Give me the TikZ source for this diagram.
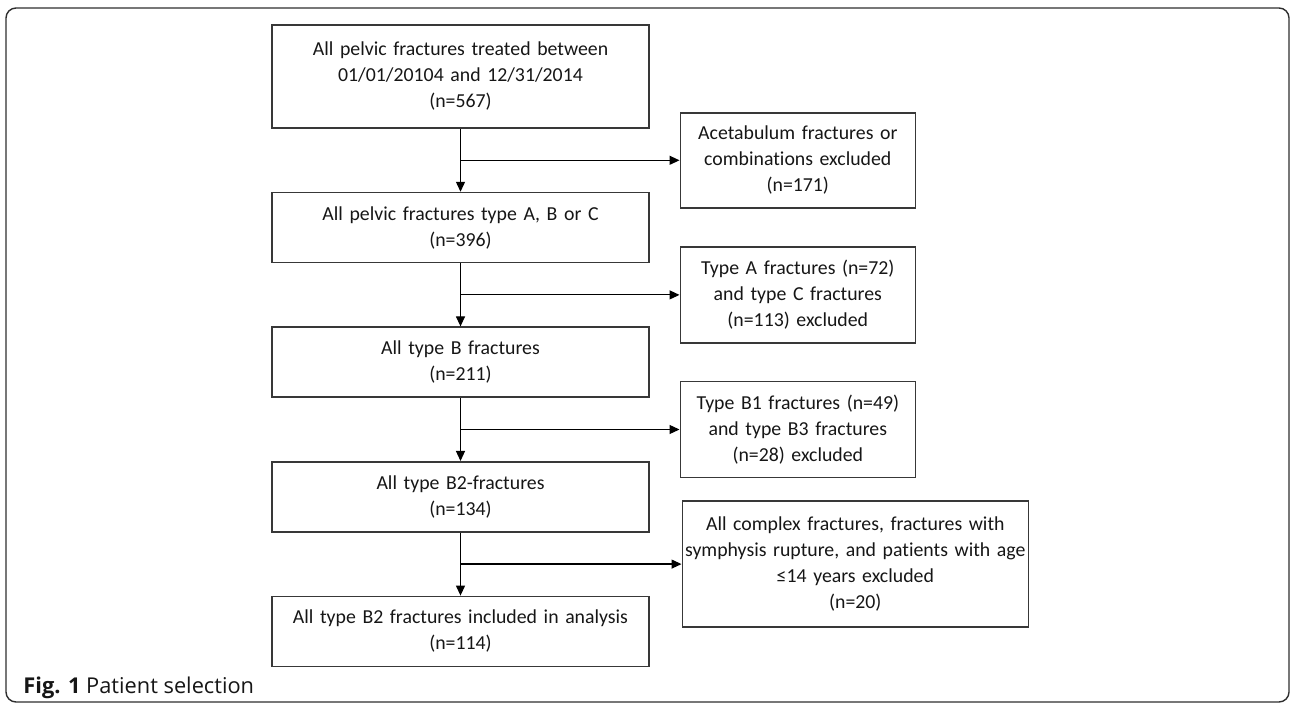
\documentclass[tikz,border=0pt]{standalone}
\usepackage{fontspec}
\usepackage{xcolor}
\usepackage{tikz}
\usetikzlibrary{positioning,arrows.meta}
\setmainfont{Carlito}[Ligatures=NoCommon,WordSpace=0.8]
\newfontfamily\capfont{Open Sans}
\definecolor{selGray}{HTML}{383838}
\definecolor{selText}{HTML}{161616}
\definecolor{selFrame}{HTML}{2E2E2E}
\newcommand{\nval}[1]{(n=#1)}

\begin{document}
\begin{tikzpicture}[x=0.5pt,y=-0.5pt,node distance=31.5pt,
    font=\fontsize{9.9pt}{13pt}\selectfont,
    flowbox/.style={draw=selGray,line width=0.8pt,text=selText,align=center,inner sep=0pt},
    mainbox/.style={flowbox,text width=188.5pt,minimum height=35pt},
    exclbox/.style={flowbox,text width=117.5pt,minimum height=48pt},
    flowarrow/.style={line width=0.6pt,-{Triangle[length=5pt,width=4.5pt]}}]
      \useasboundingbox (0,0) rectangle (1290,704);
      \draw[selFrame,line width=0.7pt,rounded corners=5pt] (6,8) rectangle (1289,702);
      % main column
      \node[mainbox,minimum height=51.5pt] (allpelvic) at (460.5,76.5)
        {All pelvic fractures treated between\\01/01/20104 and 12/31/2014\\\nval{567}};
      \node[mainbox,below=of allpelvic] (typeabc)
        {All pelvic fractures type A, B or C\\\nval{396}};
      \node[mainbox,below=of typeabc] (typeb)
        {All type B fractures\\\nval{211}};
      \node[mainbox,below=of typeb] (typebtwo)
        {All type B2-fractures\\\nval{134}};
      \node[mainbox,below=of typebtwo] (included)
        {All type B2 fractures included in analysis\\\nval{114}};
      % branch points
      \path (allpelvic.south) -- (typeabc.north) coordinate[midway] (split1);
      \path (typeabc.south) -- (typeb.north) coordinate[midway] (split2);
      \path (typeb.south) -- (typebtwo.north) coordinate[midway] (split3);
      \path (typebtwo.south) -- (included.north) coordinate[midway] (split4);
      % exclusions
      \node[exclbox,minimum height=47.5pt,right=109.5pt of split1] (acetabulum)
        {Acetabulum fractures or\\combinations excluded\\\nval{171}};
      \node[exclbox,right=109.5pt of split2] (typeac)
        {Type A fractures \nval{72}\\and type C fractures\\\nval{113} excluded};
      \node[exclbox,right=109.5pt of split3] (typebonethree)
        {Type B1 fractures \nval{49}\\and type B3 fractures\\\nval{28} excluded};
      \node[exclbox,text width=173pt,minimum height=63pt,right=110.5pt of split4] (complex)
        {All complex fractures, fractures with\\symphysis rupture, and patients with age\\≤14 years excluded\\\nval{20}};
      \draw[flowarrow] (allpelvic) -- (typeabc);
      \draw[flowarrow] (typeabc) -- (typeb);
      \draw[flowarrow] (typeb) -- (typebtwo);
      \draw[flowarrow] (typebtwo) -- (included);
      \draw[flowarrow] (split1) -- (acetabulum);
      \draw[flowarrow] (split2) -- (typeac);
      \draw[flowarrow] (split3) -- (typebonethree);
      \draw[flowarrow] (split4) -- (complex);
      \node[anchor=base west,inner sep=0pt,text=selText,font=\capfont\fontsize{10.9pt}{12pt}\selectfont] (caption) at (23,694)
        {\textbf{Fig. 1} Patient selection};
    \end{tikzpicture}
\end{document}
